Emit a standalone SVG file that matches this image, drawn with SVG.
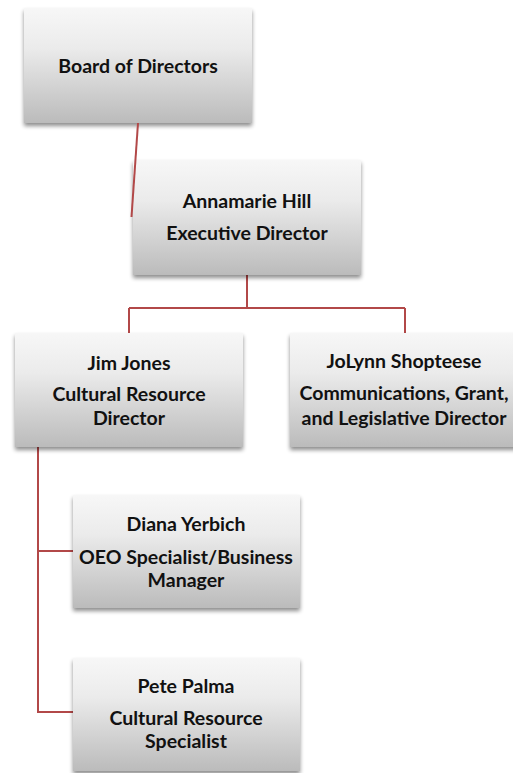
<svg xmlns="http://www.w3.org/2000/svg" width="513" height="773" viewBox="0 0 513 773">
  <defs>
    <linearGradient id="boxFill" x1="0" y1="0" x2="0" y2="1">
      <stop offset="0" stop-color="#f7f7f7"/>
      <stop offset="0.35" stop-color="#ebebeb"/>
      <stop offset="1" stop-color="#bbbbbb"/>
    </linearGradient>
    <filter id="drop" x="-10%" y="-10%" width="120%" height="130%">
      <feGaussianBlur in="SourceAlpha" stdDeviation="2.2"/>
      <feOffset dx="0" dy="3" result="b"/>
      <feComponentTransfer><feFuncA type="linear" slope="0.45"/></feComponentTransfer>
      <feMerge><feMergeNode/><feMergeNode in="SourceGraphic"/></feMerge>
    </filter>
  </defs>
  <style>
    .box { fill: url(#boxFill); filter: url(#drop); }
    .lbl { font-family: Lato, "Open Sans", "Liberation Sans", sans-serif; font-weight: bold; font-size: 19.5px; fill: #111; text-anchor: middle; dominant-baseline: central; }
    .link { fill: none; stroke: #b24848; stroke-width: 2; }
  </style>
  <rect width="513" height="773" fill="#ffffff"/>

  <g id="connectors">
    <path class="link" d="M247,275 V308 M129,308 H405 M129,308 V333 M405,308 V333"/>
    <path class="link" d="M38,447 V712 H73 M38,551 H73"/>
  </g>

  <g id="board">
    <rect class="box" x="24" y="8" width="228" height="115"/>
    <text class="lbl" x="138" y="65">Board of Directors</text>
  </g>

  <g id="executive">
    <rect class="box" x="133" y="160" width="228" height="115"/>
    <text class="lbl" x="247" y="200">Annamarie Hill</text>
    <text class="lbl" x="247" y="232">Executive Director</text>
  </g>

  <!-- board-to-executive link sits over the executive box edge -->
  <path class="link" d="M138,123 L131.5,217"/>

  <g id="jim">
    <rect class="box" x="15" y="333" width="228" height="114"/>
    <text class="lbl" x="129" y="362">Jim Jones</text>
    <text class="lbl" x="129" y="393">Cultural Resource</text>
    <text class="lbl" x="129" y="417">Director</text>
  </g>

  <g id="jolynn">
    <rect class="box" x="290" y="333" width="228" height="114"/>
    <text class="lbl" x="404" y="360">JoLynn Shopteese</text>
    <text class="lbl" x="404" y="392">Communications, Grant,</text>
    <text class="lbl" x="404" y="417">and Legislative Director</text>
  </g>

  <g id="diana">
    <rect class="box" x="73" y="495" width="227" height="113"/>
    <text class="lbl" x="186" y="523">Diana Yerbich</text>
    <text class="lbl" x="186" y="556">OEO Specialist/Business</text>
    <text class="lbl" x="186" y="579">Manager</text>
  </g>

  <g id="pete">
    <rect class="box" x="73" y="658" width="227" height="113"/>
    <text class="lbl" x="186" y="685">Pete Palma</text>
    <text class="lbl" x="186" y="717">Cultural Resource</text>
    <text class="lbl" x="186" y="740">Specialist</text>
  </g>
</svg>
